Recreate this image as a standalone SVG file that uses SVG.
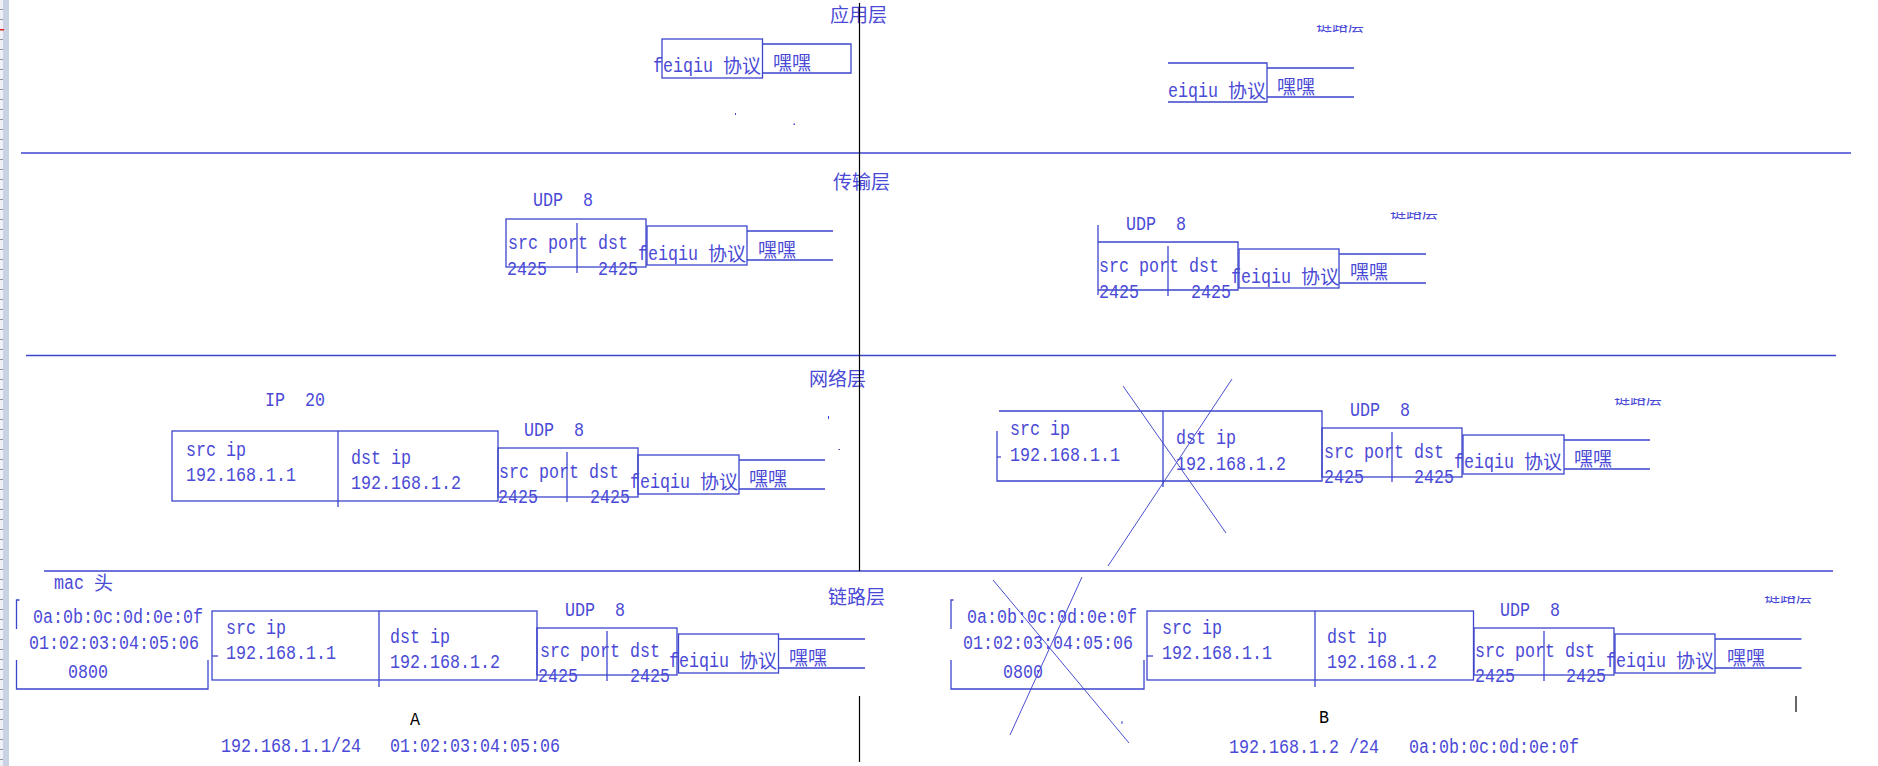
<svg xmlns="http://www.w3.org/2000/svg" width="1878" height="766" viewBox="0 0 1878 766">
<style>
.ln{stroke:#3d45cc;stroke-width:1.3;fill:none}
.th{stroke:#4a4fd0;stroke-width:1;fill:none}
.bk{stroke:#000;stroke-width:1.2;fill:none}
.t{font-family:"Liberation Mono",monospace;font-size:20px;fill:#4a4ad6;white-space:pre}
.c{font-family:"Noto Sans CJK SC",sans-serif;font-size:19px;fill:#4a4ad6}
.k{font-family:"Liberation Mono",monospace;font-size:19px;fill:#000}
</style>
<defs>
<pattern id="ticks" x="0" y="0" width="9" height="10" patternUnits="userSpaceOnUse">
<rect x="0" y="9" width="3" height="1" fill="#8e98ab"/>
</pattern>
<clipPath id="cl"><rect x="-2" y="-6" width="60" height="8"/></clipPath>
<clipPath id="udpcut"><rect x="0" y="603" width="1878" height="20"/></clipPath>
<g id="cut"><g clip-path="url(#cl)"><text class="c" style="font-size:16px" x="0" y="0">链路层</text></g></g>
</defs>
<rect width="1878" height="766" fill="#fff"/>
<g id="ruler">
<rect x="0" y="0" width="3" height="766" fill="#eef0f6"/>
<rect x="3" y="0" width="6" height="766" fill="#c9d3e4"/>
<rect x="0" y="0" width="3" height="766" fill="url(#ticks)"/>
<rect x="0" y="29" width="4" height="1.5" fill="#e02020"/>
</g>
<g id="layers">
<line class="ln" x1="21" y1="153" x2="1851" y2="153"/>
<line class="ln" x1="26" y1="355.5" x2="1836" y2="355.5"/>
<line class="ln" x1="44" y1="571" x2="1833" y2="571"/>
<text class="c" x="830" y="22">应用层</text>
<text class="c" x="833" y="189">传输层</text>
<text class="c" x="809" y="386">网络层</text>
<text class="c" x="828" y="604">链路层</text>
</g>
<g id="connectors">
<line class="bk" x1="859.5" y1="3" x2="859.5" y2="571"/>
<line class="bk" x1="859.5" y1="696" x2="859.5" y2="762"/>
<line class="bk" x1="1796" y1="696" x2="1796" y2="712"/>
<line class="th" x1="1123" y1="386" x2="1226" y2="533"/>
<line class="th" x1="1232" y1="379" x2="1108" y2="566"/>
<line class="th" x1="993" y1="580" x2="1129" y2="743"/>
<line class="th" x1="1082" y1="577" x2="1010" y2="735"/>
</g>
<g id="specks" fill="#3d45cc">
<rect x="735" y="113" width="1" height="2"/>
<rect x="793.5" y="123.5" width="1.5" height="1.5"/>
<rect x="828" y="416" width="1" height="3"/>
<rect x="838.5" y="449" width="1.5" height="1"/>
<rect x="1121.5" y="721" width="1" height="3"/>
</g>

<!-- Application layer -->
<g id="app-a">
<rect class="ln" x="662" y="39" width="100.5" height="39"/>
<text class="t" x="653" y="72" textLength="60" lengthAdjust="spacingAndGlyphs">feiqiu</text>
<text class="c" x="723" y="73">协议</text>
<path class="ln" d="M762.5 44H851V73H762.5"/>
<text class="c" x="773" y="69.5">嘿嘿</text>
</g>
<g id="app-b">
<path class="ln" d="M1168 63H1267V102H1168"/>
<text class="t" x="1168" y="97" textLength="50" lengthAdjust="spacingAndGlyphs">eiqiu</text>
<text class="c" x="1228" y="98">协议</text>
<path class="ln" d="M1267 68H1354M1267 97H1354"/>
<text class="c" x="1277" y="94">嘿嘿</text>
<use href="#cut" x="1316" y="31"/>
</g>

<!-- Transport layer -->
<g id="trans-a">
<text class="t" x="533" y="206" textLength="60" lengthAdjust="spacingAndGlyphs" xml:space="preserve">UDP  8</text>
<rect class="ln" x="506" y="219" width="140" height="48"/>
<line class="ln" x1="577" y1="223" x2="577" y2="273"/>
<text class="t" x="508" y="249" textLength="120" lengthAdjust="spacingAndGlyphs">src port dst</text>
<text class="t" x="507" y="275" textLength="40" lengthAdjust="spacingAndGlyphs">2425</text>
<text class="t" x="598" y="275" textLength="40" lengthAdjust="spacingAndGlyphs">2425</text>
<rect class="ln" x="647" y="226" width="100" height="39"/>
<text class="t" x="638" y="260" textLength="60" lengthAdjust="spacingAndGlyphs">feiqiu</text>
<text class="c" x="708" y="261">协议</text>
<path class="ln" d="M747 231H833M747 260H833"/>
<text class="c" x="758" y="257">嘿嘿</text>
</g>
<g id="trans-b">
<text class="t" x="1126" y="230" textLength="60" lengthAdjust="spacingAndGlyphs" xml:space="preserve">UDP  8</text>
<line class="ln" x1="1098" y1="225" x2="1098" y2="295"/>
<path class="ln" d="M1098 242H1238V290H1098"/>
<line class="ln" x1="1168" y1="246" x2="1168" y2="296"/>
<text class="t" x="1099" y="272" textLength="120" lengthAdjust="spacingAndGlyphs">src port dst</text>
<text class="t" x="1099" y="298" textLength="40" lengthAdjust="spacingAndGlyphs">2425</text>
<text class="t" x="1191" y="298" textLength="40" lengthAdjust="spacingAndGlyphs">2425</text>
<rect class="ln" x="1239" y="249" width="100" height="39"/>
<text class="t" x="1231" y="283" textLength="60" lengthAdjust="spacingAndGlyphs">feiqiu</text>
<text class="c" x="1301" y="284">协议</text>
<path class="ln" d="M1339 254H1426M1339 283H1426"/>
<text class="c" x="1350" y="279">嘿嘿</text>
<use href="#cut" x="1390" y="218"/>
</g>

<!-- Network layer -->
<g id="net-a">
<text class="t" x="265" y="406" textLength="60" lengthAdjust="spacingAndGlyphs" xml:space="preserve">IP  20</text>
<rect class="ln" x="172" y="431" width="326" height="70"/>
<line class="ln" x1="338" y1="431" x2="338" y2="507"/>
<text class="t" x="186" y="456" textLength="60" lengthAdjust="spacingAndGlyphs">src ip</text>
<text class="t" x="186" y="481" textLength="110" lengthAdjust="spacingAndGlyphs">192.168.1.1</text>
<text class="t" x="351" y="464" textLength="60" lengthAdjust="spacingAndGlyphs">dst ip</text>
<text class="t" x="351" y="489" textLength="110" lengthAdjust="spacingAndGlyphs">192.168.1.2</text>
<text class="t" x="524" y="436" textLength="60" lengthAdjust="spacingAndGlyphs" xml:space="preserve">UDP  8</text>
<rect class="ln" x="498" y="448" width="140" height="49"/>
<line class="ln" x1="567" y1="452" x2="567" y2="502"/>
<text class="t" x="499" y="478" textLength="120" lengthAdjust="spacingAndGlyphs">src port dst</text>
<text class="t" x="498" y="503" textLength="40" lengthAdjust="spacingAndGlyphs">2425</text>
<text class="t" x="590" y="503" textLength="40" lengthAdjust="spacingAndGlyphs">2425</text>
<rect class="ln" x="638" y="455" width="101" height="39"/>
<text class="t" x="630" y="488" textLength="60" lengthAdjust="spacingAndGlyphs">feiqiu</text>
<text class="c" x="700" y="489">协议</text>
<path class="ln" d="M739 460H825M739 489H825"/>
<text class="c" x="749" y="486">嘿嘿</text>
</g>
<g id="net-b">
<path class="ln" d="M997 431V481H1322V411H999"/>
<line class="ln" x1="997" y1="457" x2="1001" y2="457"/>
<line class="ln" x1="1163" y1="411" x2="1163" y2="487"/>
<text class="t" x="1010" y="435" textLength="60" lengthAdjust="spacingAndGlyphs">src ip</text>
<text class="t" x="1010" y="461" textLength="110" lengthAdjust="spacingAndGlyphs">192.168.1.1</text>
<text class="t" x="1176" y="444" textLength="60" lengthAdjust="spacingAndGlyphs">dst ip</text>
<text class="t" x="1176" y="470" textLength="110" lengthAdjust="spacingAndGlyphs">192.168.1.2</text>
<text class="t" x="1350" y="416" textLength="60" lengthAdjust="spacingAndGlyphs" xml:space="preserve">UDP  8</text>
<rect class="ln" x="1322" y="428" width="140" height="49"/>
<line class="ln" x1="1392" y1="432" x2="1392" y2="482"/>
<text class="t" x="1324" y="458" textLength="120" lengthAdjust="spacingAndGlyphs">src port dst</text>
<text class="t" x="1324" y="483" textLength="40" lengthAdjust="spacingAndGlyphs">2425</text>
<text class="t" x="1414" y="483" textLength="40" lengthAdjust="spacingAndGlyphs">2425</text>
<rect class="ln" x="1463" y="435" width="101" height="39"/>
<text class="t" x="1454" y="468" textLength="60" lengthAdjust="spacingAndGlyphs">feiqiu</text>
<text class="c" x="1524" y="469">协议</text>
<path class="ln" d="M1564 440H1650M1564 469H1650"/>
<text class="c" x="1574" y="466">嘿嘿</text>
<use href="#cut" x="1614" y="404"/>
</g>

<!-- Link layer -->
<g id="link-a">
<text class="t" x="54" y="589" textLength="30" lengthAdjust="spacingAndGlyphs">mac</text>
<text class="c" x="94" y="590">头</text>
<path class="ln" d="M19.5 600H16.5V629"/>
<path class="ln" d="M16.5 660V689H208V660"/>
<text class="t" x="33" y="623" textLength="170" lengthAdjust="spacingAndGlyphs">0a:0b:0c:0d:0e:0f</text>
<text class="t" x="29" y="649" textLength="170" lengthAdjust="spacingAndGlyphs">01:02:03:04:05:06</text>
<text class="t" x="68" y="678" textLength="40" lengthAdjust="spacingAndGlyphs">0800</text>
<rect class="ln" x="212" y="611" width="325" height="69"/>
<line class="ln" x1="212" y1="656" x2="218" y2="656"/>
<line class="ln" x1="379" y1="611" x2="379" y2="687"/>
<text class="t" x="226" y="634" textLength="60" lengthAdjust="spacingAndGlyphs">src ip</text>
<text class="t" x="226" y="659" textLength="110" lengthAdjust="spacingAndGlyphs">192.168.1.1</text>
<text class="t" x="390" y="643" textLength="60" lengthAdjust="spacingAndGlyphs">dst ip</text>
<text class="t" x="390" y="668" textLength="110" lengthAdjust="spacingAndGlyphs">192.168.1.2</text>
<text class="t" x="565" y="616" textLength="60" lengthAdjust="spacingAndGlyphs" xml:space="preserve" clip-path="url(#udpcut)">UDP  8</text>
<rect class="ln" x="537" y="628" width="140" height="47"/>
<line class="ln" x1="607" y1="631" x2="607" y2="681"/>
<text class="t" x="540" y="657" textLength="120" lengthAdjust="spacingAndGlyphs">src port dst</text>
<text class="t" x="538" y="682" textLength="40" lengthAdjust="spacingAndGlyphs">2425</text>
<text class="t" x="630" y="682" textLength="40" lengthAdjust="spacingAndGlyphs">2425</text>
<rect class="ln" x="678.5" y="634" width="100" height="39"/>
<text class="t" x="669" y="667" textLength="60" lengthAdjust="spacingAndGlyphs">feiqiu</text>
<text class="c" x="739" y="668">协议</text>
<path class="ln" d="M778.5 639H865M778.5 668H865"/>
<text class="c" x="789" y="665">嘿嘿</text>
<text class="k" x="410" y="725" textLength="10" lengthAdjust="spacingAndGlyphs">A</text>
<text class="t" x="221" y="752" textLength="140" lengthAdjust="spacingAndGlyphs">192.168.1.1/24</text>
<text class="t" x="390" y="752" textLength="170" lengthAdjust="spacingAndGlyphs">01:02:03:04:05:06</text>
</g>
<g id="link-b">
<path class="ln" d="M953.5 600H951V629"/>
<path class="ln" d="M951 660V689H1144V660"/>
<text class="t" x="967" y="623" textLength="170" lengthAdjust="spacingAndGlyphs">0a:0b:0c:0d:0e:0f</text>
<text class="t" x="963" y="649" textLength="170" lengthAdjust="spacingAndGlyphs">01:02:03:04:05:06</text>
<text class="t" x="1003" y="678" textLength="40" lengthAdjust="spacingAndGlyphs">0800</text>
<rect class="ln" x="1147" y="611" width="326.5" height="69"/>
<line class="ln" x1="1147" y1="656" x2="1153" y2="656"/>
<line class="ln" x1="1315" y1="611" x2="1315" y2="687"/>
<text class="t" x="1162" y="634" textLength="60" lengthAdjust="spacingAndGlyphs">src ip</text>
<text class="t" x="1162" y="659" textLength="110" lengthAdjust="spacingAndGlyphs">192.168.1.1</text>
<text class="t" x="1327" y="643" textLength="60" lengthAdjust="spacingAndGlyphs">dst ip</text>
<text class="t" x="1327" y="668" textLength="110" lengthAdjust="spacingAndGlyphs">192.168.1.2</text>
<text class="t" x="1500" y="616" textLength="60" lengthAdjust="spacingAndGlyphs" xml:space="preserve" clip-path="url(#udpcut)">UDP  8</text>
<rect class="ln" x="1474" y="628" width="140" height="47"/>
<line class="ln" x1="1544" y1="631" x2="1544" y2="681"/>
<text class="t" x="1475" y="657" textLength="120" lengthAdjust="spacingAndGlyphs">src port dst</text>
<text class="t" x="1475" y="682" textLength="40" lengthAdjust="spacingAndGlyphs">2425</text>
<text class="t" x="1566" y="682" textLength="40" lengthAdjust="spacingAndGlyphs">2425</text>
<rect class="ln" x="1615" y="634" width="100" height="39"/>
<text class="t" x="1606" y="667" textLength="60" lengthAdjust="spacingAndGlyphs">feiqiu</text>
<text class="c" x="1676" y="668">协议</text>
<path class="ln" d="M1715 639H1801.5M1715 668H1801.5"/>
<text class="c" x="1727" y="665">嘿嘿</text>
<use href="#cut" x="1764" y="602"/>
<text class="k" x="1319" y="723" textLength="10" lengthAdjust="spacingAndGlyphs">B</text>
<text class="t" x="1229" y="753" textLength="150" lengthAdjust="spacingAndGlyphs">192.168.1.2 /24</text>
<text class="t" x="1409" y="753" textLength="170" lengthAdjust="spacingAndGlyphs">0a:0b:0c:0d:0e:0f</text>
</g>
</svg>
